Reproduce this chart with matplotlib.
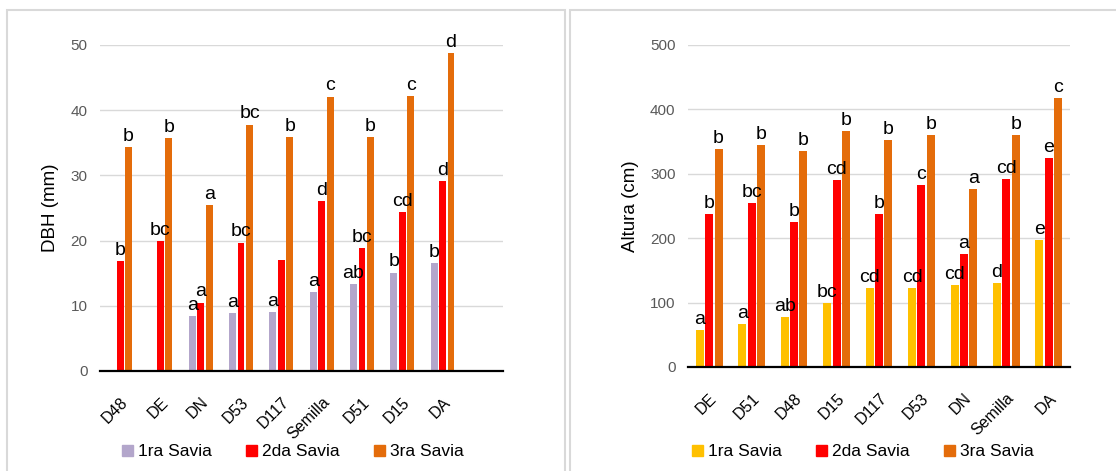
import numpy as np
import matplotlib
matplotlib.use('Agg')
import matplotlib.pyplot as plt
from matplotlib.patches import Rectangle, Patch

plt.rcParams['font.family'] = ['Liberation Sans', 'DejaVu Sans']

# Datos DBH (panel izquierdo)
dbh_cats = ['D48', 'DE', 'DN', 'D53', 'D117', 'Semilla', 'D51', 'D15', 'DA', '']
dbh_s1 = [np.nan, np.nan, 8.4, 8.9, 9.0, 12.1, 13.3, 15.1, 16.6, np.nan]
dbh_s2 = [16.9, 20.0, 10.5, 19.7, 17.1, 26.0, 18.9, 24.4, 29.1, np.nan]
dbh_s3 = [34.3, 35.7, 25.5, 37.8, 35.9, 42.1, 35.9, 42.2, 48.8, np.nan]
dbh_l1 = ['', '', 'a', 'a', 'a', 'a', 'ab', 'b', 'b', '']
dbh_l2 = ['b', 'bc', 'a', 'bc', '', 'd', 'bc', 'cd', 'd', '']
dbh_l3 = ['b', 'b', 'a', 'bc', 'b', 'c', 'b', 'c', 'd', '']

# Datos Altura (panel derecho)
alt_cats = ['DE', 'D51', 'D48', 'D15', 'D117', 'D53', 'DN', 'Semilla', 'DA']
alt_s1 = [57, 67, 77, 99, 122, 123, 127, 130, 197]
alt_s2 = [238, 254, 225, 290, 238, 283, 175, 292, 324]
alt_s3 = [339, 345, 335, 366, 353, 360, 276, 360, 418]
alt_l1 = ['a', 'a', 'ab', 'bc', 'cd', 'cd', 'cd', 'd', 'e']
alt_l2 = ['b', 'bc', 'b', 'cd', 'b', 'c', 'a', 'cd', 'e']
alt_l3 = ['b', 'b', 'b', 'b', 'b', 'b', 'a', 'b', 'c']

series_names = ['1ra Savia', '2da Savia', '3ra Savia']
orange = '#E46C0A'
red = '#FF0000'

fig = plt.figure(figsize=(11.16, 4.71), dpi=100)

# marcos de los paneles
W, H = 1116, 471
for x0, x1 in [(7, 565), (570, 1125)]:
    fig.patches.append(Rectangle((x0 / W, -0.05), (x1 - x0) / W, (H - 10) / H + 0.05,
                                 transform=fig.transFigure, fill=False,
                                 edgecolor='#D9D9D9', linewidth=1.5))


def draw_panel(ax, cats, vals, labels, colors, ymax, step, ylabel, pitch, width):
    x = np.arange(len(cats))
    for i, (v, lab, c) in enumerate(zip(vals, labels, colors)):
        off = (i - 1) * pitch
        ax.bar(x + off, v, width=width, color=c, zorder=3)
        for xi, vi, li in zip(x, v, lab):
            if li and not np.isnan(vi):
                ax.annotate(li, (xi + off, vi), xytext=(0, 1.5), textcoords='offset points',
                            ha='center', va='bottom', fontsize=14, color='black',
                            annotation_clip=False, zorder=6)
    ax.set_xlim(-0.5, len(cats) - 0.5)
    ax.set_ylim(0, ymax)
    ax.set_yticks(np.arange(0, ymax + 1, step))
    ax.yaxis.grid(True, color='#D9D9D9', linewidth=1, zorder=0)
    ax.set_axisbelow(True)
    for s in ['top', 'right', 'left']:
        ax.spines[s].set_visible(False)
    ax.spines['bottom'].set_linewidth(1.6)
    ax.spines['bottom'].set_zorder(4)
    ax.tick_params(axis='y', length=0, pad=9, labelsize=11, labelcolor='#595959')
    ax.tick_params(axis='x', length=0, pad=17, labelsize=11.5)
    ax.set_xticks(x)
    ax.set_xticklabels(cats, rotation=45, ha='right', va='top', rotation_mode='anchor')
    ax.set_ylabel(ylabel, fontsize=13.5, labelpad=8)


ax1 = fig.add_axes([100 / W, 1 - 371 / H, 403 / W, 326 / H])
draw_panel(ax1, dbh_cats, [dbh_s1, dbh_s2, dbh_s3], [dbh_l1, dbh_l2, dbh_l3],
           ['#B3A6CB', red, orange], 50, 10, 'DBH (mm)', 0.21, 0.17)

ax2 = fig.add_axes([688 / W, 1 - 367 / H, 382 / W, 322 / H])
draw_panel(ax2, alt_cats, [np.array(alt_s1, float), np.array(alt_s2, float), np.array(alt_s3, float)],
           [alt_l1, alt_l2, alt_l3], ['#FFC000', red, orange], 500, 100, 'Altura (cm)', 0.22, 0.19)

for cols, cx in [(['#B3A6CB', red, orange], 293), (['#FFC000', red, orange], 863)]:
    handles = [Patch(color=c, label=n) for c, n in zip(cols, series_names)]
    fig.legend(handles=handles, loc='center', bbox_to_anchor=(cx / W, 1 - 452 / H),
               ncol=3, frameon=False, fontsize=12.5, handlelength=0.6, handleheight=0.6,
               handletextpad=0.3, columnspacing=2.0)

fig.savefig('out.png', dpi=100)
